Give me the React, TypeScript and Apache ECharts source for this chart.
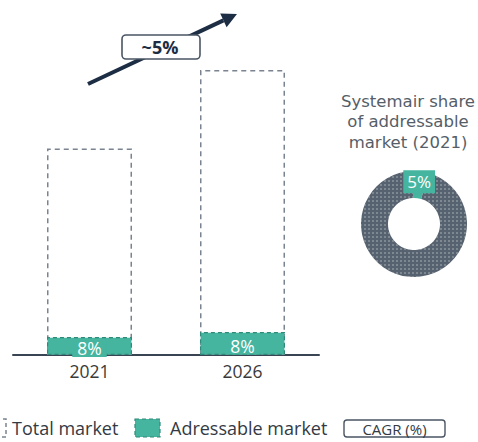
import React, { useEffect, useRef } from "react";
import * as echarts from "echarts";

const years = ["2021", "2026"];
const totalMarket = [100, 138];
const addressableMarket = [8.7, 11.1];
const addressableLabels = ["8%", "8%"];
const shareLabel = "5%";
const shareData = [5, 95];
const cagrLabel = "~5%";
const titleLines = ["Systemair share", "of addressable", "market (2021)"];

const FONT = "'Open Sans', 'Noto Sans', sans-serif";
const TITLE_FONT = "'DejaVu Sans', sans-serif";
const TEAL = "#45b5a0";
const TEAL_DARK = "#2f8a79";
const GREY = "#7a8490";
const NAVY = "#1d2d44";

export default function App() {
  const ref = useRef<HTMLDivElement>(null);
  useEffect(() => {
    if (!ref.current) return;
    const chart = echarts.init(ref.current, undefined, { renderer: "svg" });
    // arrow geometry
    const sx = 88, sy = 84, tx = 237, ty = 14;
    const dx = tx - sx, dy = ty - sy;
    const len = Math.sqrt(dx * dx + dy * dy);
    const ux = dx / len, uy = dy / len;
    const nx = -uy, ny = ux;
    const hl = 15, hw = 7.5;
    const bx = tx - hl * ux, by = ty - hl * uy;
    const titleY = [101, 121.5, 142];
    chart.setOption({
      animation: false,
      textStyle: { fontFamily: FONT },
      grid: { left: 13, width: 306, top: 70, bottom: 87 },
      xAxis: {
        type: "category",
        data: years,
        axisLine: { lineStyle: { color: "#3a4553", width: 2 } },
        axisTick: { show: false },
        axisLabel: { color: "#3a3a3a", fontSize: 17.5, margin: 7, fontFamily: FONT },
      },
      yAxis: { type: "value", min: 0, max: 138, show: false, splitLine: { show: false } },
      series: [
        {
          name: "Total market",
          type: "bar",
          data: totalMarket,
          barWidth: 85,
          barGap: "-100%",
          itemStyle: { color: "#ffffff", borderColor: GREY, borderWidth: 1.5, borderType: [5, 4] },
          z: 2,
        },
        {
          name: "Adressable market",
          type: "bar",
          data: addressableMarket,
          barWidth: 85,
          itemStyle: { color: TEAL, borderColor: TEAL_DARK, borderWidth: 1.2, borderType: [4, 3] },
          label: {
            show: true,
            position: "inside",
            formatter: (p: any) => addressableLabels[p.dataIndex],
            color: "#ffffff",
            fontSize: 17.5,
            fontFamily: FONT,
            backgroundColor: TEAL,
            padding: [0, 5],
            offset: [0, 2],
          },
          z: 3,
        },
        {
          type: "pie",
          center: [414, 224],
          radius: [26, 53],
          startAngle: 92,
          clockwise: true,
          silent: true,
          labelLine: { show: false },
          data: [
            {
              value: shareData[0],
              name: "share",
              itemStyle: { color: TEAL },
              label: {
                show: true,
                position: "inside",
                formatter: shareLabel,
                color: "#ffffff",
                fontSize: 17,
                fontFamily: FONT,
                backgroundColor: TEAL,
                padding: [3, 4],
              },
            },
            {
              value: shareData[1],
              name: "rest",
              itemStyle: {
                color: "#56626f",
                decal: {
                  symbol: "rect",
                  symbolSize: 0.8,
                  dashArrayX: [[2, 2]],
                  dashArrayY: [2, 2],
                  color: "rgba(255,255,255,0.4)",
                  rotation: 0,
                },
              },
              label: { show: false },
            },
          ],
        },
      ],
      graphic: [
        // pie title
        ...titleLines.map((t, i) => ({
          type: "text",
          x: 408,
          y: titleY[i],
          style: {
            text: t,
            font: `16.5px ${TITLE_FONT}`,
            fill: "#555e68",
            align: "center",
            verticalAlign: "middle",
          },
        })),
        // arrow
        {
          type: "line",
          shape: { x1: sx, y1: sy, x2: bx, y2: by },
          style: { stroke: NAVY, lineWidth: 4 },
          z: 10,
        },
        {
          type: "polygon",
          shape: { points: [[tx, ty], [bx + hw * nx, by + hw * ny], [bx - hw * nx, by - hw * ny]] },
          style: { fill: NAVY },
          z: 10,
        },
        {
          type: "rect",
          shape: { x: 122, y: 35, width: 78, height: 24, r: 4 },
          style: { fill: "#ffffff", stroke: "#4a5563", lineWidth: 1.6 },
          z: 11,
        },
        {
          type: "text",
          x: 160,
          y: 47,
          style: {
            text: cagrLabel,
            font: `bold 18px ${FONT}`,
            fill: NAVY,
            align: "center",
            verticalAlign: "middle",
          },
          z: 12,
        },
        // legend
        {
          type: "rect",
          shape: { x: -18, y: 419, width: 24, height: 18 },
          style: { fill: "#ffffff", stroke: GREY, lineWidth: 1.5, lineDash: [4, 3] },
        },
        {
          type: "text",
          x: 12,
          y: 428,
          style: { text: "Total market", font: `18px ${FONT}`, fill: "#333a44", verticalAlign: "middle" },
        },
        {
          type: "rect",
          shape: { x: 135, y: 419, width: 25, height: 18 },
          style: { fill: TEAL, stroke: TEAL_DARK, lineWidth: 1.2, lineDash: [4, 3] },
        },
        {
          type: "text",
          x: 170,
          y: 428,
          style: { text: "Adressable market", font: `18px ${FONT}`, fill: "#333a44", verticalAlign: "middle" },
        },
        {
          type: "rect",
          shape: { x: 344, y: 420, width: 101, height: 17, r: 3 },
          style: { fill: "#ffffff", stroke: "#4a5563", lineWidth: 1.4 },
        },
        {
          type: "text",
          x: 394.5,
          y: 428.5,
          style: { text: "CAGR (%)", font: `15px ${FONT}`, fill: "#333a44", align: "center", verticalAlign: "middle" },
        },
      ],
    });
    return () => chart.dispose();
  }, []);
  return <div ref={ref} style={{ width: 478, height: 442, position: "absolute", left: 0, top: 0 }} />;
}
